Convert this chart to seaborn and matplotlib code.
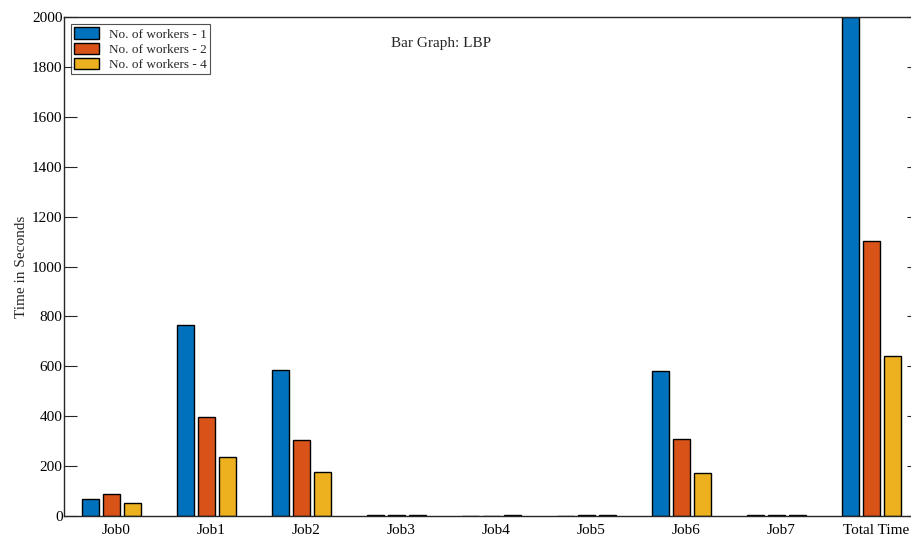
import matplotlib
matplotlib.use("Agg")
import matplotlib.pyplot as plt
import matplotlib.transforms as mtransforms
import seaborn as sns
import pandas as pd

categories = ["Job0", "Job1", "Job2", "Job3", "Job4", "Job5", "Job6", "Job7", "Total Time"]
workers_1 = [67, 765, 585, 3, 1, 1, 581, 3, 1998]
workers_2 = [88, 397, 305, 3, 2, 3, 307, 3, 1102]
workers_4 = [51, 235, 178, 3, 3, 3, 172, 3, 641]
series_names = ["No. of workers - 1", "No. of workers - 2", "No. of workers - 4"]
colors = ["#0072BD", "#D95319", "#EDB120"]
yticks = [0, 200, 400, 600, 800, 1000, 1200, 1400, 1600, 1800, 2000]

rows = []
for name, vals in zip(series_names, [workers_1, workers_2, workers_4]):
    for c, v in zip(categories, vals):
        rows.append({"Job": c, "Series": name, "Time": v})
df = pd.DataFrame(rows)

sns.set_style("white")
plt.rcParams["font.family"] = ["Liberation Serif", "DejaVu Serif"]

fig = plt.figure(figsize=(9.12, 5.38), dpi=100)
W, H = 912, 538
ax = fig.add_axes([64 / W, (H - 516) / H, (919 - 64) / W, (516 - 17) / H])

sns.barplot(data=df, x="Job", y="Time", hue="Series", order=categories,
            hue_order=series_names, palette=colors, width=0.663, gap=0.19,
            edgecolor="black", linewidth=1.0, saturation=1, ax=ax, legend=True)

ax.set_xlim(-0.5, 8.5)
ax.set_ylim(0, 2000)
ax.set_yticks(yticks)
ax.set_yticklabels([str(t) for t in yticks])
ax.set_xlabel("")
ax.set_ylabel("Time in Seconds", fontsize=11, labelpad=3)

for s in ax.spines.values():
    s.set_visible(True)
    s.set_color("#262626")
    s.set_linewidth(1.0)

ax.tick_params(axis="y", direction="in", length=9, width=0.8, pad=1,
               labelsize=11, left=True, right=True, colors="#262626", labelcolor="black")
ax.tick_params(axis="x", length=0, pad=6, labelsize=11, labelcolor="black")

offset = mtransforms.ScaledTranslation(5 / 100, 0, fig.dpi_scale_trans)
for lbl in ax.get_xticklabels():
    lbl.set_transform(lbl.get_transform() + offset)

leg = ax.legend(loc="upper left", bbox_to_anchor=(7 / 855, 1 - 7 / 499),
                fontsize=9.5, frameon=True, fancybox=False, borderpad=0.25,
                handlelength=1.9, handleheight=0.95, handletextpad=0.7,
                labelspacing=0.15, borderaxespad=0)
leg.get_frame().set_edgecolor("#262626")
leg.get_frame().set_linewidth(0.8)

fig.text(441 / W, 1 - 43 / H, "Bar Graph: LBP", ha="center", va="center", fontsize=11)

fig.savefig("out.png", dpi=100)
